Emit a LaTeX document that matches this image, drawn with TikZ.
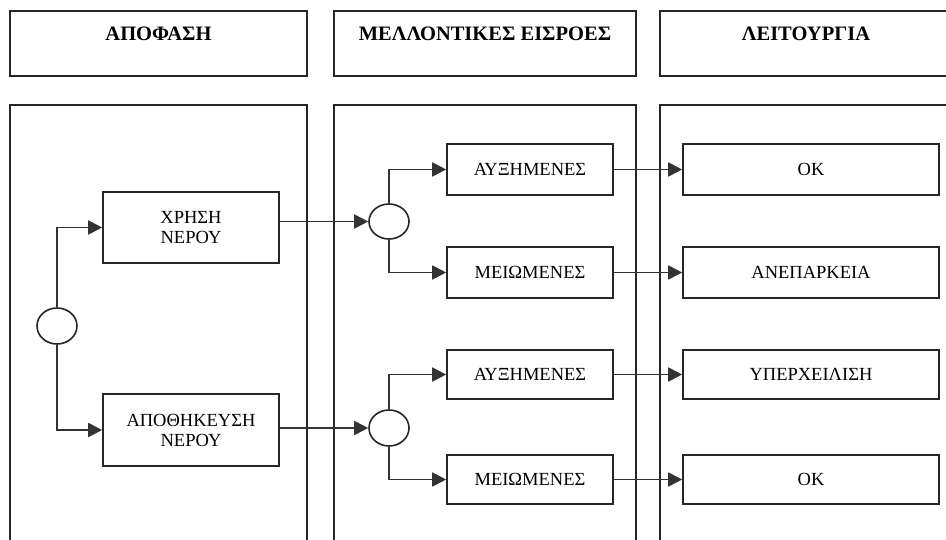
\documentclass[tikz,border=0pt]{standalone}
\usepackage{fontspec}
\setmainfont{Liberation Serif}
\usetikzlibrary{arrows.meta,shapes.geometric}
\begin{document}
\begin{tikzpicture}[x=1pt,y=-1pt,
  frame/.style={draw=black!85,line width=1.6pt},
  header/.style={frame,rectangle,inner sep=0pt,minimum height=65pt,
    font=\fontsize{20.5}{23}\selectfont\bfseries,text height=10pt,text depth=16pt},
  panel/.style={frame,rectangle,inner sep=0pt,minimum height=520pt,anchor=north},
  item/.style={frame,rectangle,inner sep=0pt,align=center,
    font=\fontsize{18.5}{20}\selectfont},
  junction/.style={frame,ellipse,inner sep=0pt,minimum width=40pt,minimum height=36pt},
  link/.style={draw=black!80,line width=1.8pt,-{Triangle[length=14pt,width=14pt]}}]
\useasboundingbox (0,0) rectangle (946,540);
\clip (0,0) rectangle (946,540);

% column headers
\node[header,minimum width=297pt] (hdec) at (158.5,43.5) {ΑΠΟΦΑΣΗ};
\node[header,minimum width=302pt] (hin)  at (485,43.5) {ΜΕΛΛΟΝΤΙΚΕΣ ΕΙΣΡΟΕΣ};
\node[header,minimum width=292pt] (hop)  at (806,43.5) {ΛΕΙΤΟΥΡΓΙΑ};

% column panels, open at the bottom
\node[panel,minimum width=297pt] (pdec) at (158.5,104) {};
\node[panel,minimum width=302pt] (pin)  at (485,104) {};
\node[panel,minimum width=292pt] (pop)  at (806,104) {};

% decision
\node[junction] (cdec) at (57,326) {};
\node[item,minimum width=176pt,minimum height=71pt] (use)   at (191,227.5) {ΧΡΗΣΗ\\ΝΕΡΟΥ};
\node[item,minimum width=176pt,minimum height=72pt] (store) at (191,430) {ΑΠΟΘΗΚΕΥΣΗ\\ΝΕΡΟΥ};

% future inflows
\node[junction,minimum height=35pt] (cuse)   at (389,221.5) {};
\node[junction] (cstore) at (389,428) {};
\node[item,minimum width=166pt,minimum height=51pt] (incA) at (530,169.5) {ΑΥΞΗΜΕΝΕΣ};
\node[item,minimum width=166pt,minimum height=51pt] (decA) at (530,272.5) {ΜΕΙΩΜΕΝΕΣ};
\node[item,minimum width=166pt,minimum height=49pt] (incB) at (530,374.5) {ΑΥΞΗΜΕΝΕΣ};
\node[item,minimum width=166pt,minimum height=49pt] (decB) at (530,479.5) {ΜΕΙΩΜΕΝΕΣ};

% operation
\node[item,minimum width=256pt,minimum height=51pt] (ok1)  at (811,169.5) {ΟΚ};
\node[item,minimum width=256pt,minimum height=51pt] (lack) at (811,272.5) {ΑΝΕΠΑΡΚΕΙΑ};
\node[item,minimum width=256pt,minimum height=49pt] (over) at (811,374.5) {ΥΠΕΡΧΕΙΛΙΣΗ};
\node[item,minimum width=256pt,minimum height=49pt] (ok2)  at (811,479.5) {ΟΚ};

% connectors
\draw[link] (cdec.north) |- (use.west);
\draw[link] (cdec.south) |- (store.west);
\draw[link] (use.east |- cuse.west) -- (cuse.west);
\draw[link] (store.east |- cstore.west) -- (cstore.west);
\draw[link] (cuse.north) |- (incA.west);
\draw[link] (cuse.south) |- (decA.west);
\draw[link] (cstore.north) |- (incB.west);
\draw[link] (cstore.south) |- (decB.west);
\draw[link] (incA.east) -- (ok1.west);
\draw[link] (decA.east) -- (lack.west);
\draw[link] (incB.east) -- (over.west);
\draw[link] (decB.east) -- (ok2.west);
\end{tikzpicture}
\end{document}
